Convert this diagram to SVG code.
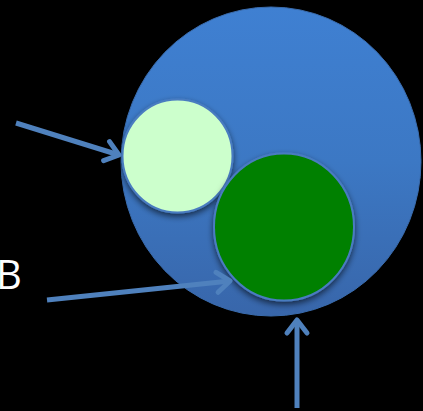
<svg xmlns="http://www.w3.org/2000/svg" width="423" height="411" viewBox="0 0 423 411">
<defs>
<linearGradient id="bg" x1="0" y1="0" x2="0" y2="1">
<stop offset="0" stop-color="#3f80d2"/>
<stop offset="0.5" stop-color="#3c78c4"/>
<stop offset="1" stop-color="#3866aa"/>
</linearGradient>
<filter id="sh" x="-20%" y="-20%" width="140%" height="150%">
<feGaussianBlur in="SourceAlpha" stdDeviation="3"/>
<feOffset dx="0" dy="3" result="b"/>
<feFlood flood-color="#000" flood-opacity="0.6"/>
<feComposite in2="b" operator="in"/>
<feMerge><feMergeNode/><feMergeNode in="SourceGraphic"/></feMerge>
</filter>
<marker id="ah" markerUnits="userSpaceOnUse" markerWidth="30" markerHeight="30" refX="20" refY="15" orient="auto">
<path d="M7,5 L20,15 L7,25" fill="none" stroke="#4f81bd" stroke-width="5" stroke-linecap="round" stroke-linejoin="round"/>
</marker>
</defs>
<style>
.conn{stroke:#4f81bd;stroke-width:5;fill:none;marker-end:url(#ah)}
.lbl{font-family:"Open Sans","DejaVu Sans",sans-serif;font-size:40px;fill:#fff}
</style>
<rect width="423" height="411" fill="#000"/>
<g id="outer">
<ellipse cx="271" cy="161.5" rx="150" ry="154.5" fill="url(#bg)" stroke="#3a6cae" stroke-width="1"/>
</g>
<g id="lightgreen">
<ellipse cx="177.5" cy="156" rx="55" ry="56.5" fill="#ccffcc" stroke="#4a7cc0" stroke-width="2" filter="url(#sh)"/>
</g>
<g id="darkgreen">
<ellipse cx="284" cy="227" rx="70" ry="73.5" fill="#008000" stroke="#4a7cc0" stroke-width="2" filter="url(#sh)"/>
</g>
<g id="connectors">
<line class="conn" x1="16" y1="123" x2="119" y2="155"/>
<line class="conn" x1="47" y1="300" x2="230" y2="281"/>
<line class="conn" x1="297" y1="408" x2="297" y2="320"/>
</g>
<g id="label">
<text class="lbl" x="-4" y="289">B</text>
</g>
</svg>
